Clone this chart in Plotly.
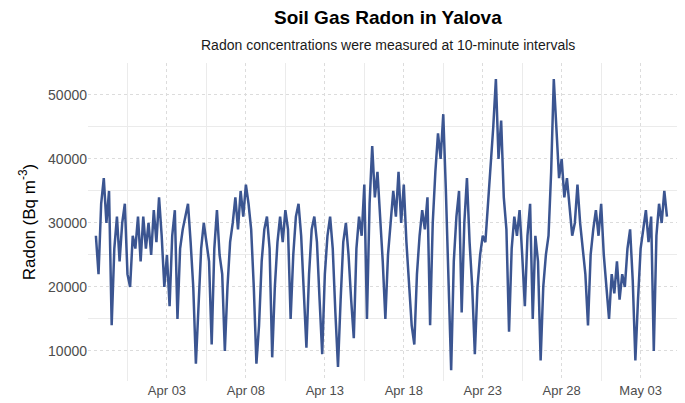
import plotly.graph_objects as go
import pandas as pd

start_time = "2021-03-29 12:00"
step = "4h"
radon = [28000,22000,33000,37000,30000,35000,14000,26000,31000,24000,30000,33000,22000,20000,28000,26000,
31000,24000,31000,26000,30000,25000,32000,27000,34000,28000,20000,25000,17000,28000,32000,15000,
26000,29000,31000,33000,27000,20000,8000,18000,26000,30000,27000,24000,11000,26000,32000,25000,
22000,10000,20000,27000,30000,34000,29000,35000,31000,36000,33000,29000,20000,8000,14000,24000,
29000,31000,26000,9000,20000,27000,31000,27000,32000,29000,15000,25000,31000,33000,28000,20000,
10500,22000,29000,31000,27000,18000,9500,22000,28000,31000,26000,16000,7500,18000,27000,30000,
25000,18000,12000,26000,31000,28000,36000,15000,33000,42000,34000,38000,31000,24000,15000,25000,
30000,35000,31000,38000,30000,36000,27000,20000,14000,11000,22000,28000,32000,29000,34000,14000,
30000,38000,44000,40000,47000,35000,20000,7000,24000,31000,35000,16000,30000,37000,27000,20000,
9500,20000,25000,28000,27000,33000,38000,45000,52500,40000,46000,34000,29000,13000,26000,31000,
28000,32000,25000,17000,28000,33000,15000,28000,24000,8500,20000,25000,28000,38000,52500,45000,
37000,40000,34000,37000,32000,28000,30000,36000,30000,26000,22000,14000,25000,29000,32000,28000,
33000,25000,20000,15000,22000,19000,24000,18000,22000,20000,26000,29000,21000,8500,18000,26000,
29000,32000,27000,31000,10000,28000,33000,30000,35000,31000]
times = pd.date_range(start_time, periods=len(radon), freq=step)
tick_vals = ["2021-04-03","2021-04-08","2021-04-13","2021-04-18","2021-04-23","2021-04-28","2021-05-03"]
tick_text = ["Apr 03","Apr 08","Apr 13","Apr 18","Apr 23","Apr 28","May 03"]
y_ticks = [10000,20000,30000,40000,50000]

fig = go.Figure(go.Scatter(x=times, y=radon, mode="lines",
                           line=dict(color="#3b5591", width=2.5)))
grid = "#ebebeb"
fig.update_layout(
    width=685, height=403, plot_bgcolor="white", paper_bgcolor="white",
    margin=dict(l=80, r=5, t=55, b=30),
    font=dict(family="Liberation Sans, Arial", color="#4d4d4d", size=13),
    showlegend=False,
    annotations=[
        dict(text="<b>Soil Gas Radon in Yalova</b>", x=0.5, y=1, xref="paper", yref="paper",
             xanchor="center", yanchor="bottom", yshift=33, showarrow=False,
             font=dict(size=19, color="black")),
        dict(text="Radon concentrations were measured at 10-minute intervals", x=0.5, y=1,
             xref="paper", yref="paper", xanchor="center", yanchor="bottom", yshift=8,
             showarrow=False, font=dict(size=14, color="#1a1a1a")),
    ],
    xaxis=dict(range=["2021-03-29 00:00","2021-05-06 00:00"], tickvals=tick_vals, ticktext=tick_text,
               showgrid=True, gridcolor="#dcdcdc", griddash="dot", zeroline=False, showline=False, ticks="",
               tickfont=dict(size=13),
               minor=dict(tickvals=["2021-04-05 12:00","2021-04-10 12:00","2021-04-15 12:00","2021-04-20 12:00",
                                    "2021-04-25 12:00","2021-04-30 12:00","2021-05-05 12:00","2021-03-31 12:00"],
                          showgrid=True, gridcolor=grid, griddash="solid")),
    yaxis=dict(range=[5300, 55000], tickvals=y_ticks, tickformat="d",
               showgrid=True, gridcolor="#dcdcdc", griddash="dot", zeroline=False, showline=False, ticks="",
               tickfont=dict(size=14),
               title=dict(text="Radon (Bq m<sup>-3</sup>)", font=dict(size=17, color="black"), standoff=8),
               minor=dict(tickvals=[15000,25000,35000,45000,55000], showgrid=True, gridcolor=grid, griddash="solid")),
)
fig.write_html("out.html")
